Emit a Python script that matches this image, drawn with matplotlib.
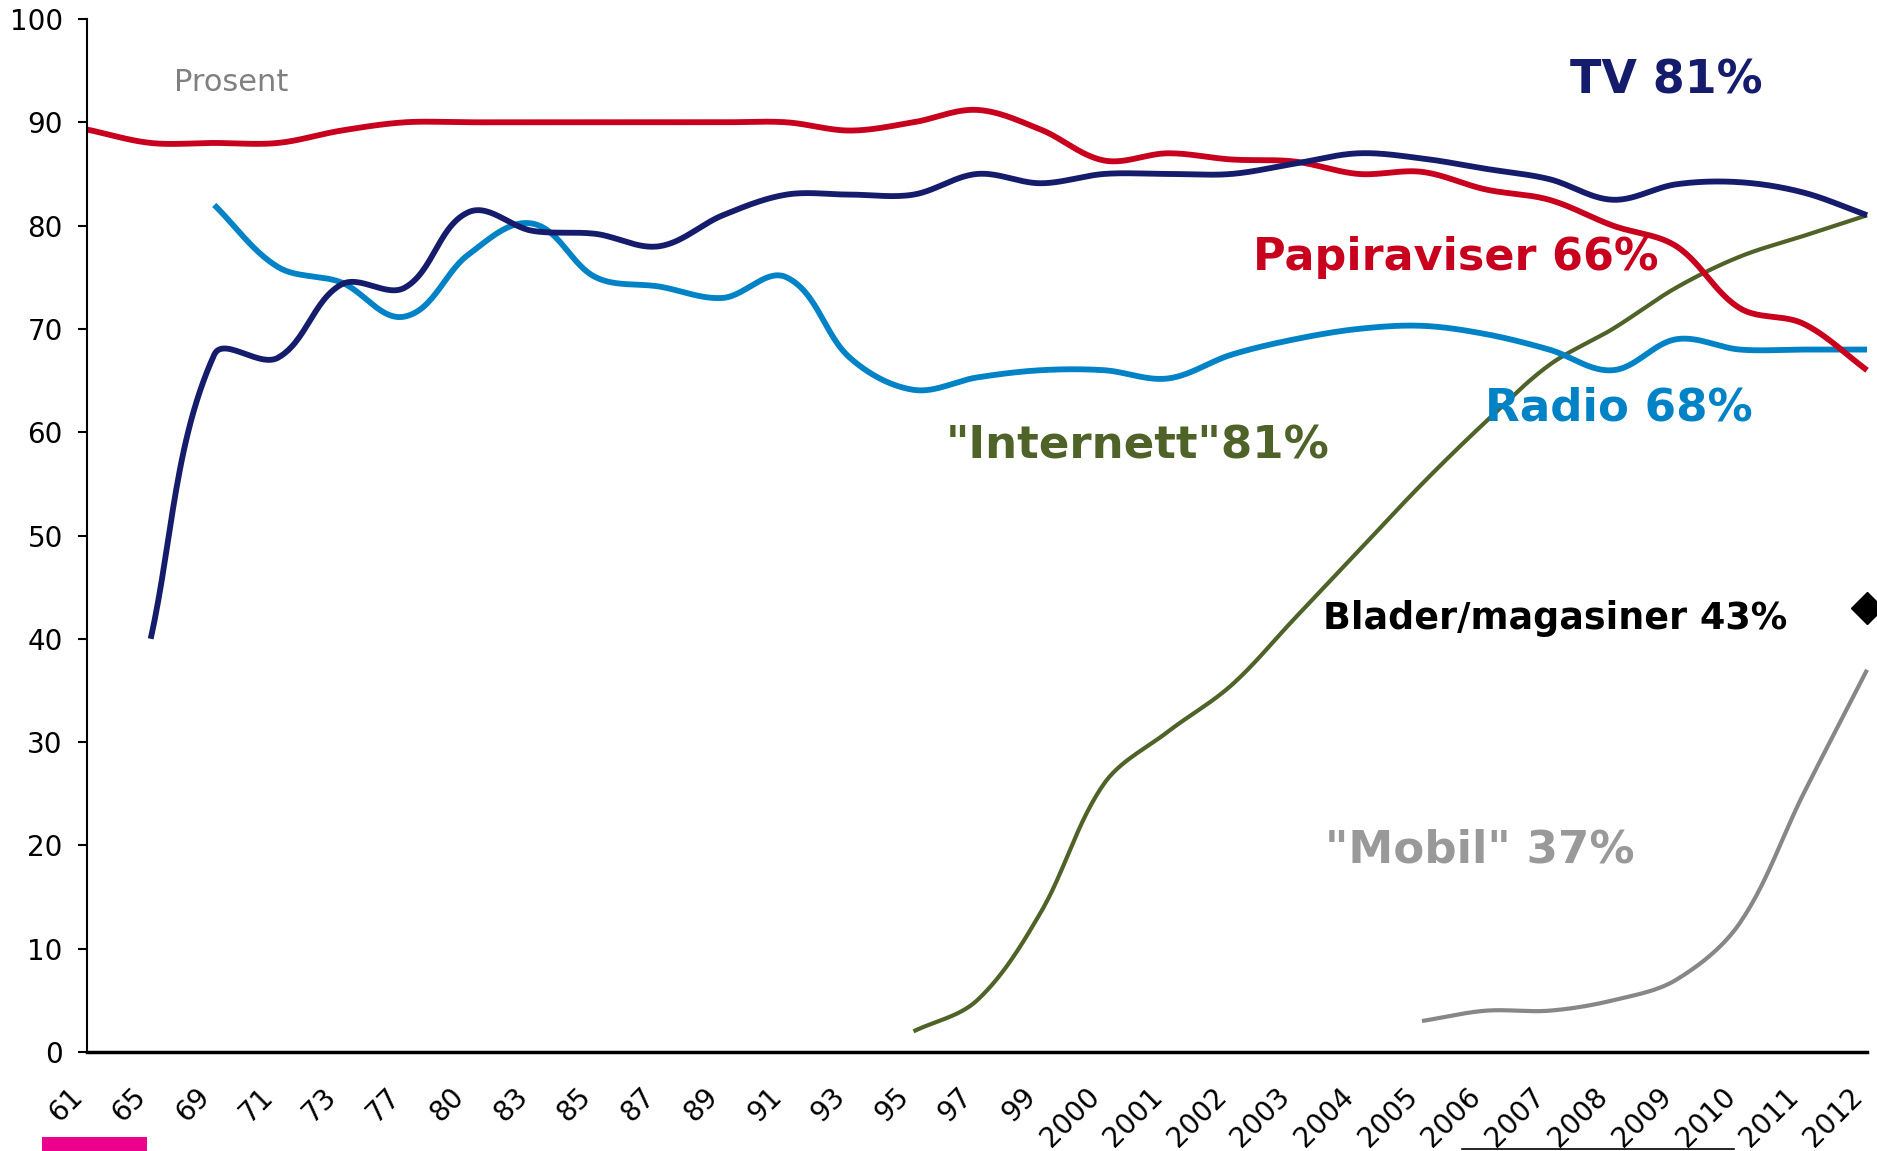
import numpy as np
import matplotlib
matplotlib.use("Agg")
import matplotlib.pyplot as plt
from matplotlib.patches import Rectangle
from matplotlib.lines import Line2D
import matplotlib.transforms as mtransforms

# kategorier (x-akse)
labels = ['61', '65', '69', '71', '73', '77', '80', '83', '85', '87', '89', '91', '93', '95',
          '97', '99', '2000', '2001', '2002', '2003', '2004', '2005', '2006', '2007', '2008',
          '2009', '2010', '2011', '2012']

# prosent, lest av figuren (None = ingen måling)
papiraviser = [89.3, 88, 88, 88, 89.2, 90, 90, 90, 90, 90, 90, 90, 89.2, 90, 91.2, 89.3,
               86.3, 87, 86.4, 86.2, 85, 85.2, 83.5, 82.5, 80, 78, 72, 70.5, 66]
tv = [None, 40, 67.5, 67.2, 74.3, 74, 81.3, 79.5, 79.2, 78, 81, 83, 83, 83, 85, 84.1,
      85, 85, 85, 86, 87, 86.5, 85.5, 84.5, 82.5, 84, 84.2, 83.2, 81]
radio = [None, None, 82, 76, 74.5, 71.2, 77.2, 80.2, 75, 74.1, 73, 75, 67.2, 64.1, 65.3, 66,
         66, 65.2, 67.5, 69, 70, 70.3, 69.5, 68, 66, 69, 68, 68, 68]
internett = [None] * 13 + [2, 5, 13.5, 26, 31, 35.5, 42, 48.5, 55, 61, 66.5, 70, 74, 77, 79, 81]
mobil = [None] * 21 + [3, 4, 4, 5, 7, 12.5, 25, 37]
blader = [None] * 28 + [43]

# piksler per enhet (omtrent), brukes bare til glatting som i Excel
SX, SY = 63.6, 10.34


def smooth(vals, n=30):
    idx = [i for i, v in enumerate(vals) if v is not None]
    p = np.array([[i * SX, vals[i] * SY] for i in idx], dtype=float)
    m = len(p)
    tang = []
    for i in range(m):
        d = p[min(i + 1, m - 1)] - p[max(i - 1, 0)]
        tang.append(d / np.hypot(*d))
    t = np.linspace(0, 1, n)[:, None]
    out = []
    for i in range(m - 1):
        L = np.hypot(*(p[i + 1] - p[i]))
        c1 = p[i] + tang[i] * L / 3
        c2 = p[i + 1] - tang[i + 1] * L / 3
        seg = (1 - t) ** 3 * p[i] + 3 * (1 - t) ** 2 * t * c1 + 3 * (1 - t) * t ** 2 * c2 + t ** 3 * p[i + 1]
        out.append(seg if i == 0 else seg[1:])
    out = np.vstack(out)
    return out[:, 0] / SX, out[:, 1] / SY


fig = plt.figure(figsize=(18.77, 11.51), dpi=100)
fig.patch.set_facecolor('white')
ax = fig.add_axes([0.0464, 0.086, 0.9483, 0.8975])

series = [
    (internett, '#4F6228', 3.0),
    (mobil, '#878787', 3.0),
    (radio, '#0083C6', 4.2),
    (papiraviser, '#C8001E', 4.2),
    (tv, '#161C6C', 4.2),
]
for vals, col, lw in series:
    xs, ys = smooth(vals)
    ax.plot(xs, ys, color=col, lw=lw, solid_capstyle='butt', clip_on=False)

bx = [i for i, v in enumerate(blader) if v is not None]
ax.plot(bx, [blader[i] for i in bx], linestyle='none', marker='D', color='black',
        markersize=16, clip_on=False)

ax.set_xlim(0, len(labels) - 1)
ax.set_ylim(0, 100)
ax.set_yticks(np.arange(0, 101, 10))
ax.tick_params(axis='y', direction='out', length=6.5, width=1.5, pad=11, labelsize=20)
ax.set_xticks(range(len(labels)))
ax.set_xticklabels(labels, rotation=45, ha='right', va='center', rotation_mode='anchor', fontsize=20)
ax.tick_params(axis='x', length=0, pad=29)
off = mtransforms.ScaledTranslation(-9 / 100, 0, fig.dpi_scale_trans)
for lab in ax.get_xticklabels():
    lab.set_transform(lab.get_transform() + off)

for s in ['top', 'right']:
    ax.spines[s].set_visible(False)
ax.spines['left'].set_linewidth(1.5)
ax.spines['bottom'].set_linewidth(2.5)

# etiketter
ax.text(1.37, 93.9, 'Prosent', color='#808080', fontsize=22, va='center')
ax.text(23.33, 94.0, 'TV 81%', color='#161C6C', fontsize=33, fontweight='bold', va='center')
ax.text(18.34, 76.9, 'Papiraviser 66%', color='#C8001E', fontsize=32, fontweight='bold', va='center')
ax.text(21.99, 62.3, 'Radio 68%', color='#0083C6', fontsize=32.5, fontweight='bold', va='center')
ax.text(13.51, 58.7, '"Internett"81%', color='#4F6228', fontsize=32.5, fontweight='bold', va='center')
ax.text(19.44, 42.0, 'Blader/magasiner 43%', color='black', fontsize=26.3, fontweight='bold', va='center')
ax.text(19.47, 19.6, '"Mobil" 37%', color='#999999', fontsize=32.5, fontweight='bold', va='center')

# rester fra lysbildet
fig.patches.append(Rectangle((42 / 1877, 0), 105 / 1877, 14 / 1151, transform=fig.transFigure,
                             facecolor='#EC008C', edgecolor='none'))
fig.lines.append(Line2D([1462 / 1877, 1734 / 1877], [2 / 1151, 2 / 1151], transform=fig.transFigure,
                        color='black', lw=1.2))

plt.savefig('out.png', dpi=100)
